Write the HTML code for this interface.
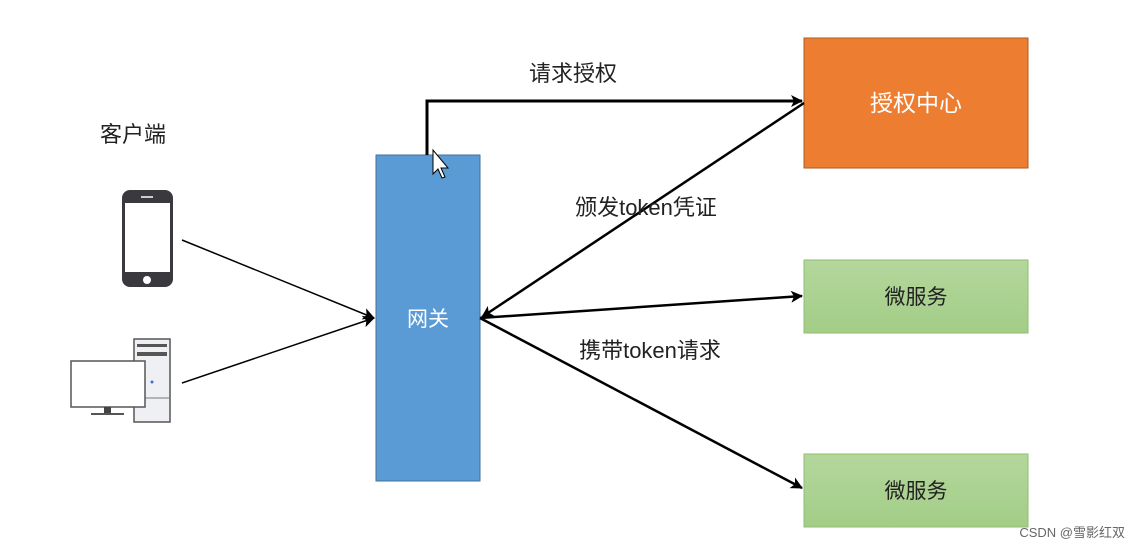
<!DOCTYPE html>
<html><head><meta charset="utf-8"><style>
body{margin:0;background:#fff;width:1140px;height:550px;overflow:hidden;font-family:"Liberation Sans","Noto Sans CJK SC",sans-serif}
</style></head><body>
<svg width="1140" height="550" xmlns="http://www.w3.org/2000/svg" font-family="Liberation Sans, Noto Sans CJK SC, sans-serif">
<defs>
<marker id="a" markerWidth="12" markerHeight="12" refX="11" refY="6" orient="auto" markerUnits="userSpaceOnUse"><path d="M0,0 L12,6 L0,12 L3,6 z" fill="#000"/></marker>
<linearGradient id="g" x1="0" y1="0" x2="0" y2="1"><stop offset="0" stop-color="#b4d79c"/><stop offset="1" stop-color="#a3cd87"/></linearGradient>
</defs>
<rect width="1140" height="550" fill="#fff"/>
<rect x="376" y="155" width="104" height="326" fill="#5b9bd5" stroke="#41719c"/>
<text x="428" y="326" font-size="21" fill="#fff" text-anchor="middle">网关</text>
<rect x="804" y="38" width="224" height="130" fill="#ed7d31" stroke="#ae5a21"/>
<text x="916" y="111" font-size="23" fill="#fff" text-anchor="middle">授权中心</text>
<rect x="804" y="260" width="224" height="73" fill="url(#g)" stroke="#8fbc70"/>
<text x="916" y="304" font-size="21" fill="#222" text-anchor="middle">微服务</text>
<rect x="804" y="454" width="224" height="73" fill="url(#g)" stroke="#8fbc70"/>
<text x="916" y="498" font-size="21" fill="#222" text-anchor="middle">微服务</text>
<polyline points="427,155 427,101 802,101" fill="none" stroke="#000" stroke-width="3" marker-end="url(#a)"/>
<line x1="804" y1="103" x2="482" y2="317" stroke="#000" stroke-width="2.5" marker-end="url(#a)"/>
<line x1="480" y1="318" x2="802" y2="296" stroke="#000" stroke-width="2.5" marker-end="url(#a)"/>
<line x1="480" y1="318" x2="802" y2="488" stroke="#000" stroke-width="2.5" marker-end="url(#a)"/>
<line x1="182" y1="240" x2="374" y2="318" stroke="#000" stroke-width="1.5" marker-end="url(#a)"/>
<line x1="182" y1="383" x2="374" y2="318" stroke="#000" stroke-width="1.5" marker-end="url(#a)"/>
<text x="573" y="81" font-size="22" fill="#222" text-anchor="middle">请求授权</text>
<text x="646" y="215" font-size="22" fill="#222" text-anchor="middle">颁发token凭证</text>
<text x="650" y="358" font-size="22" fill="#222" text-anchor="middle">携带token请求</text>
<text x="133" y="142" font-size="22" fill="#222" text-anchor="middle">客户端</text>
<rect x="122" y="190" width="51" height="97" rx="8" fill="#3a3a3e"/>
<rect x="125" y="203" width="45" height="69" fill="#fff"/>
<rect x="141" y="196" width="12" height="2" fill="#ccc"/>
<circle cx="147" cy="280" r="4" fill="#fff"/>
<rect x="134" y="339" width="36" height="83" fill="#eef0f3" stroke="#555" stroke-width="1.5"/>
<rect x="137" y="344" width="30" height="3" fill="#555"/>
<rect x="137" y="352" width="30" height="4" fill="#555"/>
<line x1="134" y1="398" x2="170" y2="398" stroke="#777"/>
<circle cx="152" cy="382" r="1.5" fill="#3a6fd8"/>
<rect x="71" y="361" width="74" height="46" fill="#fff" stroke="#555" stroke-width="1.5"/>
<rect x="104" y="407" width="7" height="6" fill="#444"/>
<rect x="91" y="413" width="33" height="2" fill="#555"/>
<path d="M433,150 L433,174 L438,169 L442,178 L445,177 L441,168 L448,168 Z" fill="#fff" stroke="#000" stroke-width="1"/>
<text x="1125" y="537" font-size="13" fill="#666" text-anchor="end">CSDN @雪影红双</text>
</svg>
</body></html>
